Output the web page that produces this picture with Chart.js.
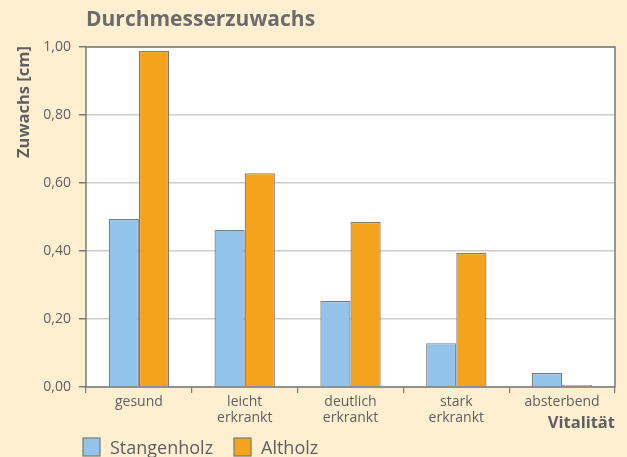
<!DOCTYPE html>
<html><head><meta charset="utf-8">
<script src="https://cdn.jsdelivr.net/npm/chart.js@4"></script>
<style>
html,body{margin:0;padding:0;background:#FDEFD0;}
#wrap{position:relative;width:627px;height:457px;}
</style></head>
<body><div id="wrap"><canvas id="c" width="627" height="457"></canvas></div>
<script>
const categories = [["gesund"], ["leicht","erkrankt"], ["deutlich","erkrankt"], ["stark","erkrankt"], ["absterbend"]];
const stangenholz = [0.494, 0.462, 0.253, 0.129, 0.041];
const altholz = [0.988, 0.629, 0.485, 0.394, 0.006];
const yTicks = [0, 0.2, 0.4, 0.6, 0.8, 1.0];
const seriesNames = ["Stangenholz", "Altholz"];
const titleText = "Durchmesserzuwachs";
const yTitle = "Zuwachs [cm]";
const xTitle = "Vitalität";

const FONT = "'Open Sans', 'Noto Sans', sans-serif";
const AREA = {left:86, right:615, top:47, bottom:387};

const deco = {
  id:'deco',
  beforeDraw(chart){
    const {ctx, chartArea:a} = chart;
    ctx.save();
    ctx.fillStyle = '#FDEFD0';
    ctx.fillRect(0,0,chart.width,chart.height);
    ctx.fillStyle = '#ffffff';
    ctx.fillRect(a.left,a.top,a.right-a.left,a.bottom-a.top);
    ctx.restore();
  },
  afterDraw(chart){
    const {ctx, chartArea:a} = chart;
    ctx.save();
    ctx.strokeStyle = '#7a7a7a';
    ctx.lineWidth = 1.5;
    ctx.strokeRect(a.left,a.top,a.right-a.left,a.bottom-a.top);
    // title
    ctx.fillStyle = '#6b6b6b';
    ctx.font = "bold 21px " + FONT;
    ctx.textBaseline = 'middle';
    ctx.textAlign = 'left';
    ctx.fillText(titleText, a.left, 20);
    // y title
    ctx.save();
    ctx.translate(24, 102);
    ctx.rotate(-Math.PI/2);
    ctx.textAlign = 'center';
    ctx.font = "bold 16.5px " + FONT;
    ctx.fillStyle = '#5f5f5f';
    ctx.fillText(yTitle, 0, 0);
    ctx.restore();
    // x title
    ctx.textAlign = 'right';
    ctx.font = "bold 16.5px " + FONT;
    ctx.fillStyle = '#5f5f5f';
    ctx.fillText(xTitle, a.right, 423);
    // legend
    const items = [
      {x:83, color: chart.data.datasets[0].backgroundColor, label: chart.data.datasets[0].label},
      {x:234, color: chart.data.datasets[1].backgroundColor, label: chart.data.datasets[1].label}
    ];
    ctx.font = "18px " + FONT;
    ctx.textAlign = 'left';
    items.forEach(it=>{
      ctx.fillStyle = it.color;
      ctx.fillRect(it.x, 438, 17, 18);
      ctx.strokeStyle = '#7a7a7a';
      ctx.lineWidth = 1.2;
      ctx.strokeRect(it.x, 438, 17, 18);
      ctx.fillStyle = '#5f5f5f';
      ctx.fillText(it.label, it.x + 27, 449);
    });
    ctx.restore();
  }
};

new Chart(document.getElementById('c'), {
  type:'bar',
  data:{
    labels: categories,
    datasets:[
      {label: seriesNames[0], data: stangenholz, backgroundColor:'#92C4EA', borderColor:'#7a7a7a', borderWidth:1.2, barPercentage:1, categoryPercentage:0.57},
      {label: seriesNames[1], data: altholz, backgroundColor:'#F5A31C', borderColor:'#7a7a7a', borderWidth:1.2, barPercentage:1, categoryPercentage:0.57}
    ]
  },
  options:{
    responsive:false,
    animation:false,
    devicePixelRatio:1,
    layout:{padding:{left:0, right:627-AREA.right, top:AREA.top, bottom:0}},
    plugins:{legend:{display:false}, tooltip:{enabled:false}, title:{display:false}},
    scales:{
      x:{
        grid:{offset:true, drawOnChartArea:false, color:'#7a7a7a', tickLength:6, lineWidth:1.2},
        border:{display:false},
        ticks:{color:'#5f5f5f', font:{family:FONT, size:14, lineHeight:1.15}, padding:1, maxRotation:0, autoSkip:false},
        afterFit(s){ s.height = 457 - AREA.bottom; }
      },
      y:{
        min:0, max:1,
        afterBuildTicks(s){ s.ticks = yTicks.map(v=>({value:v})); },
        grid:{color:'#cccccc', tickColor:'#7a7a7a', tickLength:7, lineWidth:1.5},
        border:{display:false},
        ticks:{color:'#5f5f5f', font:{family:FONT, size:14}, padding:8,
          callback:(v)=>v.toFixed(2).replace('.',',')},
        afterFit(s){ s.width = AREA.left; }
      }
    }
  },
  plugins:[deco]
});
</script>
</body></html>
